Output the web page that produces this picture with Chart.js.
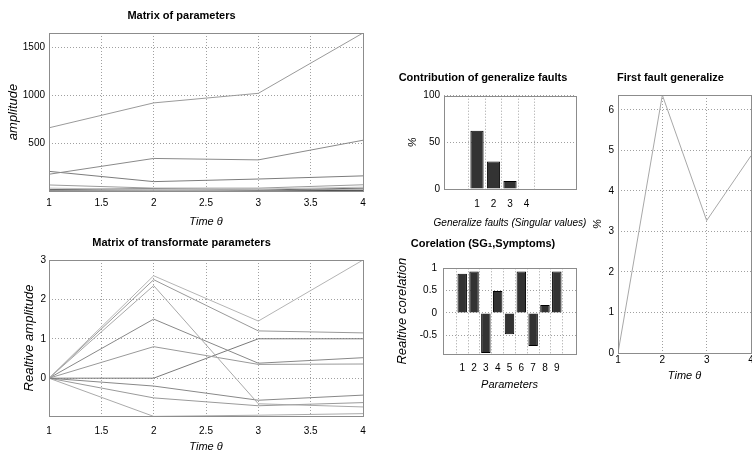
<!DOCTYPE html>
<html>
<head>
<meta charset="utf-8">
<script src="https://cdn.jsdelivr.net/npm/chart.js@4.4.1/dist/chart.umd.min.js"></script>
<style>
  body { margin: 0; width: 752px; height: 453px; overflow: hidden; position: relative; background: #fff; }
  canvas { position: absolute; }
</style>
</head>
<body>
<canvas id="c1" width="380" height="232" style="left:0px;top:0px"></canvas>
<canvas id="c2" width="380" height="227" style="left:0px;top:230px"></canvas>
<canvas id="c3" width="240" height="178" style="left:390px;top:55px"></canvas>
<canvas id="c4" width="240" height="170" style="left:390px;top:225px"></canvas>
<canvas id="c5" width="190" height="330" style="left:590px;top:55px"></canvas>
<script>
// time axis
var times = [1, 2, 3, 4];
var timeTicks = [1, 1.5, 2, 2.5, 3, 3.5, 4];

// matrix of parameters (9 parameters over time)
var par1 = [660, 920, 1020, 1650];
var par2 = [175, 340, 325, 530];
var par3 = [205, 98, 125, 158];
var par4 = [63, 30, 30, 65];
var par5 = [30, 15, 20, 40];
var par6 = [15, 25, 10, 30];
var par7 = [8, 5, 6, 20];
var par8 = [5, 10, 3, 8];
var par9 = [2, 3, 2, 5];
var parTicks = [500, 1000, 1500];

// matrix of transformate parameters
var tr1 = [0, 2.6, 1.45, 3.0];
var tr2 = [0, 2.5, 1.2, 1.15];
var tr3 = [0, 2.35, -0.65, -0.73];
var tr4 = [0, 1.5, 0.38, 0.52];
var tr5 = [0, 0.8, 0.35, 0.36];
var tr6 = [0, 0, 1.0, 1.0];
var tr7 = [0, -0.2, -0.56, -0.43];
var tr8 = [0, -0.5, -0.7, -0.62];
var tr9 = [0, -0.97, -0.94, -0.9];
var trTicks = [0, 1, 2, 3];

// contribution of generalize faults
var faults = [1, 2, 3, 4];
var contrib = [62.5, 29.5, 8.5, 0];
var contribTicks = [0, 50, 100];

// corelation SG1 / symptoms
var params = [1, 2, 3, 4, 5, 6, 7, 8, 9];
var corel = [0.88, 0.93, -0.9, 0.49, -0.48, 0.93, -0.74, 0.18, 0.93];
var corelTicks = [-0.5, 0, 0.5, 1];

// first fault generalize
var firstFault = [0, 6.37, 3.27, 4.87];
var firstTicks = [0, 1, 2, 3, 4, 5, 6];

var FONT = "'Liberation Sans', Arial, sans-serif";

// axes box + free x label (not squeezed to the axis width)
var boxPlugin = {
  id: 'box',
  afterDatasetsDraw: function (chart) {
    var a = chart.chartArea, ctx = chart.ctx;
    ctx.save();
    ctx.strokeStyle = '#8c8c8c';
    ctx.lineWidth = 1;
    ctx.strokeRect(Math.round(a.left) + 0.5, Math.round(a.top) + 0.5,
      Math.round(a.right - a.left), Math.round(a.bottom - a.top));
    var lab = chart.options.plugins.box;
    if (lab && lab.text) {
      ctx.font = 'italic 10px ' + FONT;
      ctx.fillStyle = '#000';
      ctx.textAlign = 'center';
      ctx.textBaseline = 'middle';
      ctx.fillText(lab.text, (a.left + a.right) / 2, a.bottom + lab.offset);
    }
    ctx.restore();
  }
};

function pts(xs, ys) {
  return ys.map(function (v, i) { return { x: xs[i], y: v }; });
}

function lineSet(vals, color) {
  return { data: pts(times, vals), borderColor: color, borderWidth: 1, pointRadius: 0, tension: 0, fill: false };
}

function scale(o, horizontal) {
  return {
    type: 'linear',
    min: o.min, max: o.max,
    afterBuildTicks: function (s) { s.ticks = o.ticks.map(function (v) { return { value: v }; }); },
    afterFit: function (s) { if (horizontal) s.height = o.size; else s.width = o.size; },
    ticks: {
      color: '#000', padding: o.tickPad, autoSkip: false, maxRotation: 0,
      font: { family: FONT, size: 10 },
      callback: function (v) { return String(v); }
    },
    grid: { color: '#a0a0a0', drawTicks: false, lineWidth: 1 },
    border: { display: false, dash: [1, 2] },
    title: {
      display: !!o.title, text: o.title, color: '#000',
      font: { family: FONT, size: o.titleSize || 11, style: 'italic' },
      padding: o.titlePad
    }
  };
}

function makeChart(id, type, datasets, o) {
  return new Chart(document.getElementById(id), {
    type: type,
    data: { datasets: datasets },
    options: {
      responsive: false, animation: false, devicePixelRatio: 1,
      layout: { padding: { left: 0, right: o.padRight, top: 0, bottom: 0 } },
      plugins: {
        legend: { display: false }, tooltip: { enabled: false },
        box: o.freeLabel || {},
        title: {
          display: true, text: o.title, color: '#000',
          font: { family: FONT, size: 11, weight: 'bold', lineHeight: 1.3 },
          padding: o.titlePad
        }
      },
      scales: { x: scale(o.x, true), y: scale(o.y, false) }
    },
    plugins: [boxPlugin]
  });
}

makeChart('c1', 'line', [
  lineSet(par1, '#9a9a9a'), lineSet(par2, '#8a8a8a'), lineSet(par3, '#7c7c7c'),
  lineSet(par4, '#9c9c9c'), lineSet(par5, '#bdbdbd'), lineSet(par6, '#6a6a6a'),
  lineSet(par7, '#aaaaaa'), lineSet(par8, '#4a4a4a'), lineSet(par9, '#777777')
], {
  title: 'Matrix of parameters', titlePad: { top: 9, bottom: 9.7 }, padRight: 17,
  x: { min: 1, max: 4, ticks: timeTicks, size: 41, tickPad: 6, title: 'Time \u03b8', titlePad: { top: 0, bottom: 3 } },
  y: { min: 0, max: 1650, ticks: parTicks, size: 49, tickPad: 4, title: 'amplitude', titleSize: 13, titlePad: { top: 6, bottom: 0 } }
});

makeChart('c2', 'line', [
  lineSet(tr1, '#b4b4b4'), lineSet(tr2, '#999999'), lineSet(tr3, '#a8a8a8'),
  lineSet(tr4, '#888888'), lineSet(tr5, '#999999'), lineSet(tr6, '#7a7a7a'),
  lineSet(tr7, '#888888'), lineSet(tr8, '#9a9a9a'), lineSet(tr9, '#aaaaaa')
], {
  title: 'Matrix of transformate parameters', titlePad: { top: 6, bottom: 9.7 }, padRight: 17,
  x: { min: 1, max: 4, ticks: timeTicks, size: 41, tickPad: 9, title: 'Time \u03b8', titlePad: { top: 0, bottom: 3 } },
  y: { min: -0.96, max: 3.0, ticks: trTicks, size: 49, tickPad: 3, title: 'Realtive amplitude', titleSize: 13, titlePad: { top: 22, bottom: 0 } }
});

function barSet(xs, vals) {
  return { data: pts(xs, vals), backgroundColor: '#333333', borderColor: '#000', borderWidth: 1,
    barPercentage: 0.8, categoryPercentage: 1 };
}

makeChart('c3', 'bar', [barSet(faults, contrib)], {
  title: 'Contribution of generalize faults', titlePad: { top: 16, bottom: 10.4 }, padRight: 54,
  freeLabel: { text: 'Generalize faults (Singular values)', offset: 34 },
  x: { min: 0, max: 6, ticks: faults, size: 44, tickPad: 9, title: '' },
  y: { min: 0, max: 100, ticks: contribTicks, size: 54, tickPad: 4, title: '%', titlePad: { top: 16, bottom: 0 } }
});

makeChart('c4', 'bar', [barSet(params, corel)], {
  title: 'Corelation (SG\u2081,Symptoms)', titlePad: { top: 11.8, bottom: 17.2 }, padRight: 54,
  x: { min: 0, max: 10, ticks: params, size: 41, tickPad: 8, title: 'Parameters', titlePad: { top: 0, bottom: 3 } },
  y: { min: -0.92, max: 1.0, ticks: corelTicks, size: 53, tickPad: 6, title: 'Realtive corelation', titleSize: 13, titlePad: { top: 5, bottom: 0 } }
});

makeChart('c5', 'line', [
  { data: pts(times, firstFault), borderColor: '#a8a8a8', borderWidth: 1, pointRadius: 0, tension: 0, fill: false }
], {
  title: 'First fault generalize', titlePad: { top: 16, bottom: 9.7 }, padRight: 29,
  x: { min: 1, max: 4, ticks: times, size: 32, tickPad: 1, title: 'Time \u03b8', titlePad: { top: 0, bottom: 2.5 } },
  y: { min: 0, max: 6.37, ticks: firstTicks, size: 28, tickPad: 4, title: '%', titlePad: { top: 1, bottom: 0 } }
});
</script>
</body>
</html>
